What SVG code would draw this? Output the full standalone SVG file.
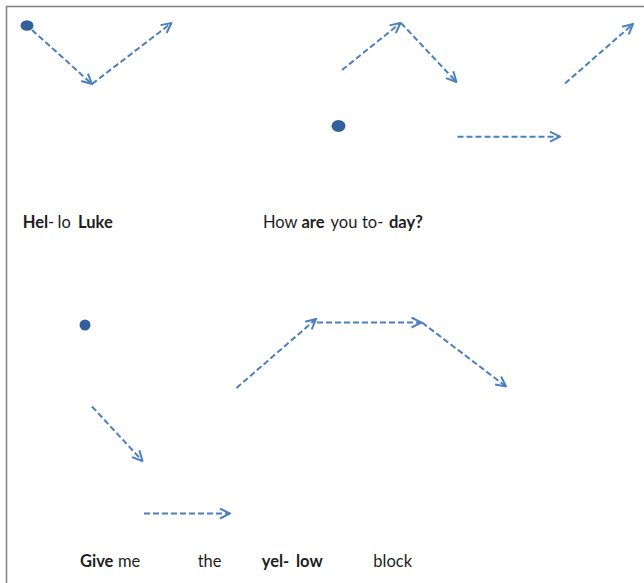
<svg xmlns="http://www.w3.org/2000/svg" width="644" height="583" viewBox="0 0 644 583">
<style>
.c{fill:none;stroke:#4a7fc2;stroke-width:2;stroke-dasharray:6 3;marker-end:url(#ah)}
.dot{fill:#33609a}
.t{font-family:Lato,"Liberation Sans",sans-serif;font-size:16.5px;fill:#1e1e1e}
.b{font-weight:bold}
</style>
<defs>
<marker id="ah" markerUnits="userSpaceOnUse" viewBox="0 0 12 12" markerWidth="12" markerHeight="12" refX="11" refY="6" orient="auto">
<path d="M1,1 L11,6 L1,11" fill="none" stroke="#4a7fc2" stroke-width="2"/>
</marker>
</defs>
<rect width="644" height="583" fill="#fff"/>
<path d="M6.5,583 V6.5 H644" fill="none" stroke="#808080" stroke-width="1.5"/>
<g id="dot1"><ellipse class="dot" cx="27" cy="25.5" rx="6.5" ry="5.3"/></g>
<g id="dot2"><ellipse class="dot" cx="338.5" cy="126" rx="7" ry="6"/></g>
<g id="dot3"><circle class="dot" cx="85" cy="325" r="5.5"/></g>
<g id="connectors">
<line class="c" x1="32" y1="30" x2="92" y2="84"/>
<line class="c" x1="92" y1="84" x2="171.5" y2="23"/>
<line class="c" x1="342" y1="70" x2="400.5" y2="23"/>
<line class="c" x1="401" y1="23" x2="456.5" y2="82"/>
<line class="c" x1="565" y1="83.5" x2="633" y2="24"/>
<line class="c" x1="457.5" y1="136.7" x2="560" y2="136.7"/>
<line class="c" x1="92" y1="406.5" x2="142.5" y2="461"/>
<line class="c" x1="144" y1="513.5" x2="230" y2="513.5"/>
<line class="c" x1="236.5" y1="388" x2="316" y2="319"/>
<line class="c" x1="317" y1="322.5" x2="421.5" y2="322.5"/>
<line class="c" x1="422" y1="322.5" x2="506" y2="386.5"/>
</g>
<g id="text1" class="t">
<text y="228"><tspan class="b" x="22.7">Hel</tspan><tspan>-</tspan><tspan x="57.5">lo</tspan><tspan class="b" x="78">Luke</tspan></text>
</g>
<g id="text2" class="t">
<text y="228"><tspan x="263">How</tspan><tspan class="b" x="301.5">are</tspan><tspan x="330.5">you</tspan><tspan x="362">to-</tspan><tspan class="b" x="389">day?</tspan></text>
</g>
<g id="text3" class="t">
<text y="567"><tspan class="b" x="80">Give</tspan><tspan x="118">me</tspan><tspan x="197.7">the</tspan><tspan class="b" x="261.7">yel-</tspan><tspan class="b" x="296">low</tspan><tspan x="373.3">block</tspan></text>
</g>
</svg>
